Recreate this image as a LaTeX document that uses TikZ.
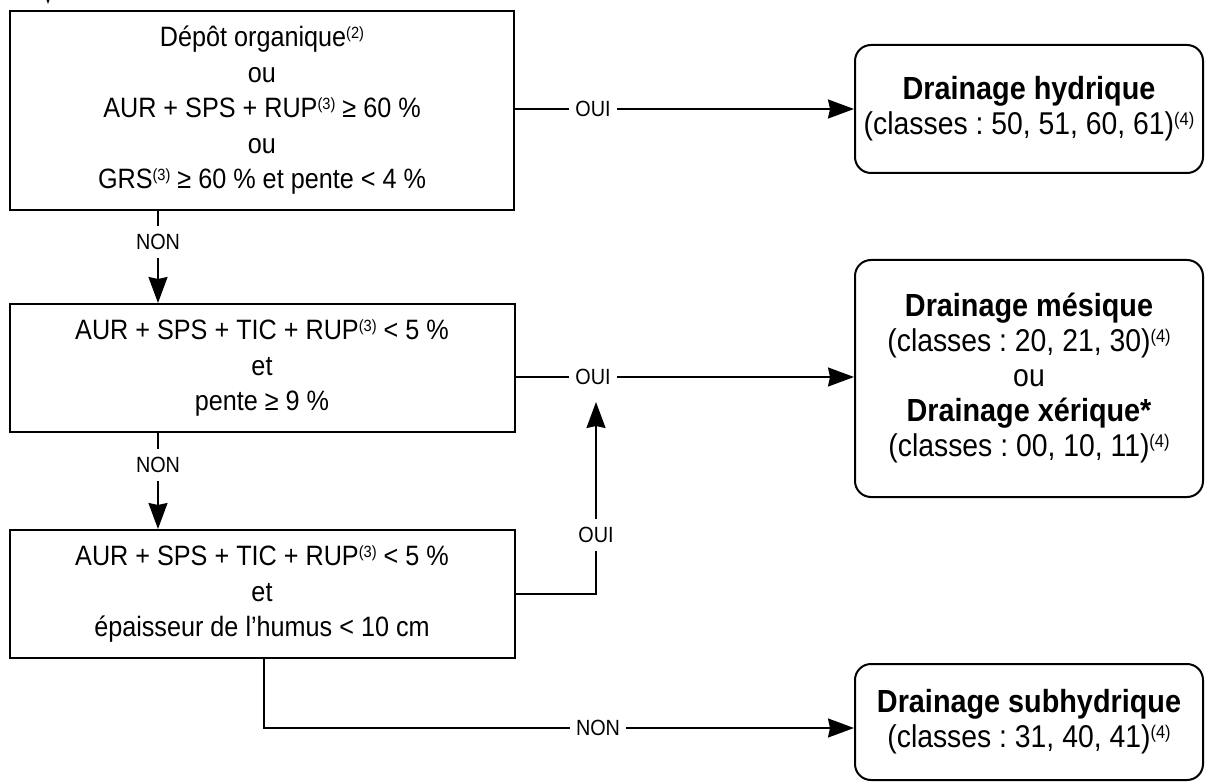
\documentclass[tikz,border=0pt]{standalone}
\usepackage{fontspec}
\setmainfont{Liberation Sans}[FakeStretch=0.9]
\usetikzlibrary{arrows.meta}
\frenchspacing
\newcommand\fnote[1]{\raisebox{0.3em}{\scalebox{0.58}{#1}}}
\begin{document}
\begin{tikzpicture}[x=1pt,y=-1pt,
  cond/.style={draw, line width=2pt, rectangle, align=center, inner sep=0pt,
    font=\fontsize{28}{35.5}\selectfont},
  res/.style={draw, line width=2pt, rounded corners=16pt, align=center, inner sep=0pt,
    minimum width=348pt, font=\fontsize{31.5}{35}\selectfont},
  conn/.style={line width=1.8pt},
  arr/.style={conn, -{Stealth[length=26pt,width=19pt,inset=2pt]}},
  lab/.style={fill=white, inner xsep=6pt, inner ysep=8pt, font=\fontsize{22}{26}\selectfont}
]
\useasboundingbox (0,0) rectangle (1206,783);

% condition boxes
\node[cond, minimum width=504pt, minimum height=199pt] (b1) at (262,110.5)
  {Dépôt organique\fnote{(2)}\\ ou\\ AUR + SPS + RUP\fnote{(3)} ≥ 60 \%\\ ou\\ GRS\fnote{(3)} ≥ 60 \% et pente < 4 \%};
\node[cond, minimum width=505pt, minimum height=128pt] (b2) at (262,368)
  {AUR + SPS + TIC + RUP\fnote{(3)} < 5 \%\\ et\\ pente ≥ 9 \%};
\node[cond, minimum width=505pt, minimum height=128pt] (b3) at (262,594)
  {AUR + SPS + TIC + RUP\fnote{(3)} < 5 \%\\ et\\ épaisseur de l’humus < 10 cm};

% result boxes
\node[res, minimum height=128pt] (r1) at (1029,109)
  {\fontsize{32}{35}\selectfont\bfseries Drainage hydrique\\
   (classes : 50, 51, 60, 61)\fnote{(4)}};
\node[res, minimum height=237pt] (r2) at (1029,378.5)
  {\fontsize{32}{35}\selectfont\bfseries Drainage mésique\\
   (classes : 20, 21, 30)\fnote{(4)}\\
   ou\\
   \fontsize{32}{35}\selectfont\bfseries Drainage xérique*\\
   (classes : 00, 10, 11)\fnote{(4)}};
\node[res, minimum height=116pt] (r3) at (1029,722)
  {\fontsize{32}{35}\selectfont\bfseries Drainage subhydrique\\
   (classes : 31, 40, 41)\fnote{(4)}};

% helper coordinates
\coordinate (in) at (48,-40);
\coordinate (intip) at (48,4);
\coordinate (y1) at (0,109);
\coordinate (y2) at (0,377);
\coordinate (y3) at (0,594);
\coordinate (y4) at (0,728);
\coordinate (xa) at (158,0);
\coordinate (xu) at (596,0);
\coordinate (xd) at (264,0);
\coordinate (tipu) at (596,402);

% entry arrow
\draw[arr] (in) -- (intip);

% OUI arrows
\draw[arr] (b1.east |- y1) -- (r1.west |- y1);
\node[lab] (l1) at (593,109) {OUI};
\draw[arr] (b2.east |- y2) -- (r2.west |- y2);
\node[lab] (l2) at (593,377) {OUI};

% NON arrows down
\draw[arr] (b1.south -| xa) -- (b2.north -| xa);
\node[lab] (n1) at (158,242) {NON};
\draw[arr] (b2.south -| xa) -- (b3.north -| xa);
\node[lab] (n2) at (158,465) {NON};

% box 3 OUI up
\draw[arr] (b3.east |- y3) -- (xu |- y3) -- (tipu);
\node[lab] (l3) at (596,535) {OUI};

% box 3 NON to subhydrique
\draw[arr] (b3.south -| xd) -- (xd |- y4) -- (r3.west |- y4);
\node[lab] (n3) at (598,728) {NON};
\end{tikzpicture}
\end{document}
